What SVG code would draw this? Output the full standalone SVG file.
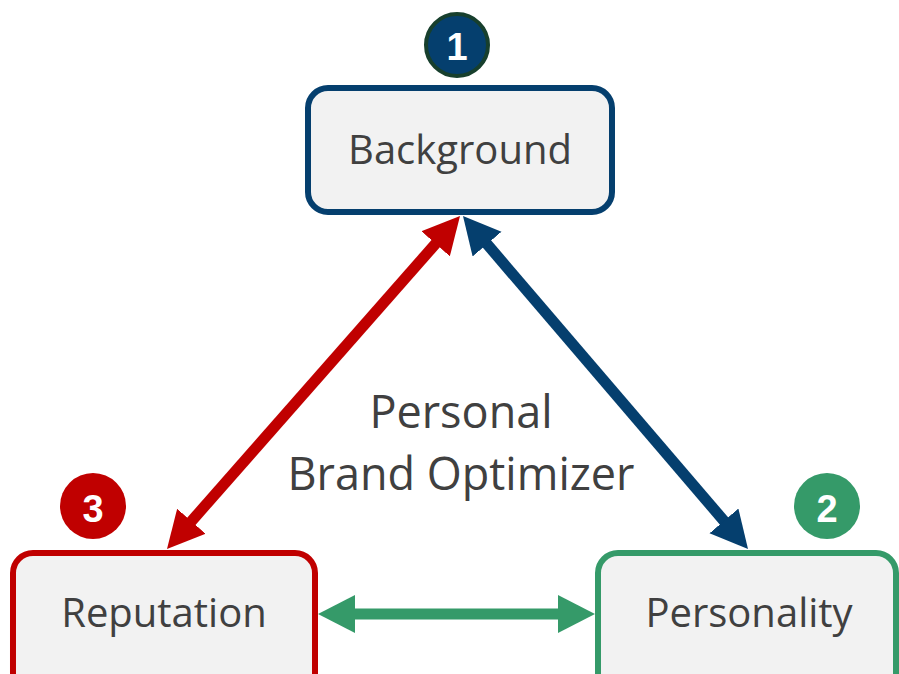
<svg xmlns="http://www.w3.org/2000/svg" width="899" height="674" viewBox="0 0 899 674">
<style>
.box{fill:#F2F2F2;stroke-width:6}
.lbl{font-family:"Open Sans","Liberation Sans",sans-serif;font-size:40px;fill:#404040;text-anchor:middle}
.ctr{font-size:45px}
.num{font-family:"Liberation Sans",Arial,sans-serif;font-weight:bold;font-size:38px;fill:#FFFFFF;text-anchor:middle}
.conn{fill:none;stroke-width:11}
</style>
<defs>
<marker id="hr" markerUnits="userSpaceOnUse" markerWidth="40" markerHeight="40" viewBox="0 0 40 40" refX="17" refY="19" orient="auto-start-reverse"><path d="M0,0 L37,19 L0,38 z" fill="#C00000"/></marker>
<marker id="hb" markerUnits="userSpaceOnUse" markerWidth="40" markerHeight="40" viewBox="0 0 40 40" refX="17" refY="19" orient="auto-start-reverse"><path d="M0,0 L37,19 L0,38 z" fill="#053F6E"/></marker>
<marker id="hg" markerUnits="userSpaceOnUse" markerWidth="40" markerHeight="40" viewBox="0 0 40 40" refX="17" refY="19" orient="auto-start-reverse"><path d="M0,0 L37,19 L0,38 z" fill="#359A69"/></marker>
</defs>
<g id="connectors">
<line class="conn" stroke="#C00000" x1="446.8" y1="231" x2="180.2" y2="534" marker-start="url(#hr)" marker-end="url(#hr)"/>
<line class="conn" stroke="#053F6E" x1="476" y1="231.2" x2="735" y2="533.8" marker-start="url(#hb)" marker-end="url(#hb)"/>
<line class="conn" stroke="#359A69" stroke-width="13" x1="338" y1="614" x2="575" y2="614" marker-start="url(#hg)" marker-end="url(#hg)"/>
</g>
<g id="background">
<rect class="box" x="308" y="88" width="304" height="124" rx="20" stroke="#053F6E"/>
<text class="lbl" x="460" y="164">Background</text>
</g>
<g id="badge1">
<circle cx="457" cy="45" r="31" fill="#053F6E" stroke="#173F2D" stroke-width="4"/>
<text class="num" x="457" y="60">1</text>
</g>
<g id="reputation">
<rect class="box" x="13" y="553" width="302" height="140" rx="20" stroke="#C00000"/>
<text class="lbl" x="164" y="627">Reputation</text>
</g>
<g id="badge3">
<circle cx="93" cy="506" r="33" fill="#C00000"/>
<text class="num" x="93" y="522">3</text>
</g>
<g id="personality">
<rect class="box" x="598" y="553" width="298" height="140" rx="20" stroke="#359A69"/>
<text class="lbl" x="749" y="627">Personality</text>
</g>
<g id="badge2">
<circle cx="827" cy="506" r="33" fill="#359A69"/>
<text class="num" x="827" y="522">2</text>
</g>
<g id="center">
<text class="lbl ctr" x="461" y="428">Personal</text>
<text class="lbl ctr" x="461" y="490">Brand Optimizer</text>
</g>
</svg>
